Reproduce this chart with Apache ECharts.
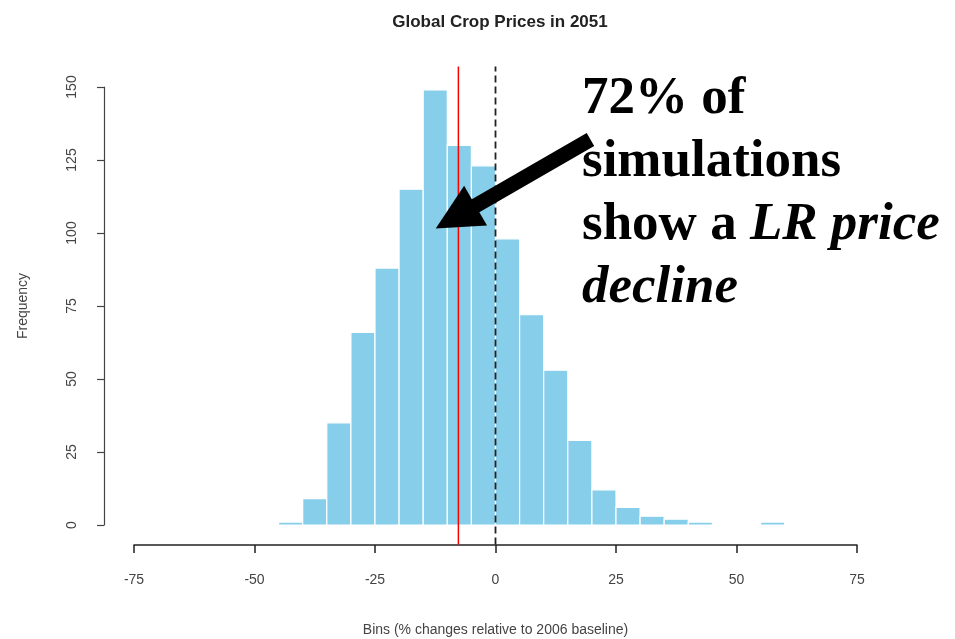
<!DOCTYPE html>
<html>
<head>
<meta charset="utf-8">
<script src="https://cdn.jsdelivr.net/npm/echarts@6/dist/echarts.min.js"></script>
<style>
  html, body { margin: 0; padding: 0; background: #fff; }
  #chart { width: 955px; height: 639px; }
</style>
</head>
<body>
<div id="chart"></div>
<script>
// histogram bins (left edge), width 5
const binStarts = [-45, -40, -35, -30, -25, -20, -15, -10, -5, 0, 5, 10, 15, 20, 25, 30, 35, 40, 45, 50, 55]
const binWidth = 5
const frequencies = [1, 9, 35, 66, 88, 115, 149, 130, 123, 98, 72, 53, 29, 12, 6, 3, 2, 1, 0, 0, 1]
const xTicks = [-75, -50, -25, 0, 25, 50, 75]
const yTicks = [0, 25, 50, 75, 100, 125, 150]
// vertical reference lines: x value, spanning the plot region in y units
const meanChange = -7.7
const baselineChange = 0
const plotYRange = [-6.7, 157]
// arrow annotation, data coords: [x, y]
const arrowTail = [19.7, 132]
const arrowTip = [-12.4, 101.5]

const chart = echarts.init(document.getElementById('chart'))

const axisText = { color: '#444', fontFamily: 'Liberation Sans, Arial', fontSize: 14 }

const vline = (x, lineStyle) => ({
  type: 'custom',
  clip: false,
  data: [[x, plotYRange[0], plotYRange[1]]],
  renderItem: (params, api) => {
    const a = api.coord([api.value(0), api.value(1)])
    const b = api.coord([api.value(0), api.value(2)])
    return {
      type: 'line',
      shape: { x1: a[0], y1: a[1], x2: b[0], y2: b[1] },
      style: lineStyle,
    }
  },
  z: 3,
})

const option = {
  animation: false,
  backgroundColor: '#fff',
  title: {
    text: 'Global Crop Prices in 2051',
    left: 495,
    top: 9,
    textAlign: 'center',
    textStyle: { fontFamily: 'Liberation Sans, Arial', fontWeight: 'bold', fontSize: 17, color: '#222' },
  },
  grid: { left: 134, right: 98, top: 87, bottom: 114, outerBoundsMode: 'none', containLabel: false },
  xAxis: {
    type: 'value',
    min: xTicks[0],
    max: xTicks[xTicks.length - 1],
    interval: 25,
    offset: 20,
    splitLine: { show: false },
    axisLine: { onZero: false, lineStyle: { color: '#222', width: 1.5 } },
    axisTick: { length: 8, lineStyle: { color: '#222', width: 1.5 } },
    axisLabel: { ...axisText, margin: 28 },
    name: 'Bins (% changes relative to 2006 baseline)',
    nameLocation: 'middle',
    nameGap: 78,
    nameTextStyle: axisText,
  },
  yAxis: {
    type: 'value',
    min: yTicks[0],
    max: yTicks[yTicks.length - 1],
    interval: 25,
    offset: 30,
    splitLine: { show: false },
    axisLine: { show: true, onZero: false, lineStyle: { color: '#444', width: 1.2 } },
    axisTick: { show: true, length: 7, lineStyle: { color: '#444', width: 1.2 } },
    axisLabel: { ...axisText, rotate: 90, margin: 25 },
    name: 'Frequency',
    nameLocation: 'middle',
    nameRotate: 90,
    nameGap: 74,
    nameTextStyle: axisText,
  },
  series: [
    {
      type: 'custom',
      data: binStarts.map((s, i) => [s, frequencies[i]]),
      renderItem: (params, api) => {
        const x0 = api.value(0)
        const v = api.value(1)
        if (!v) return
        const p0 = api.coord([x0, 0])
        const p1 = api.coord([x0 + binWidth, v])
        return {
          type: 'rect',
          shape: { x: p0[0], y: p1[1], width: p1[0] - p0[0], height: p0[1] - p1[1] },
          style: { fill: '#87ceeb', stroke: '#ffffff', lineWidth: 1.2 },
        }
      },
      z: 2,
    },
    vline(meanChange, { stroke: '#ff0000', lineWidth: 1.5 }),
    vline(baselineChange, { stroke: '#222', lineWidth: 1.8, lineDash: [7, 4] }),
  ],
}

chart.setOption(option)

// arrow polygon built from the data-space tip and tail
const tail = chart.convertToPixel({ gridIndex: 0 }, arrowTail)
const tip = chart.convertToPixel({ gridIndex: 0 }, arrowTip)
const dx = tail[0] - tip[0], dy = tail[1] - tip[1]
const len = Math.hypot(dx, dy)
const ux = dx / len, uy = dy / len
const nx = -uy, ny = ux
const headLen = 46, headHalf = 23, shaftHalf = 7.5
const bx = tip[0] + ux * headLen, by = tip[1] + uy * headLen
const arrowPoints = [
  tip,
  [bx + nx * headHalf, by + ny * headHalf],
  [bx + nx * shaftHalf, by + ny * shaftHalf],
  [tail[0] + nx * shaftHalf, tail[1] + ny * shaftHalf],
  [tail[0] - nx * shaftHalf, tail[1] - ny * shaftHalf],
  [bx - nx * shaftHalf, by - ny * shaftHalf],
  [bx - nx * headHalf, by - ny * headHalf],
]

chart.setOption({
  graphic: [
    {
      type: 'polygon',
      shape: { points: arrowPoints },
      style: { fill: '#000' },
      z: 10,
    },
    {
      type: 'text',
      left: 582,
      top: 73,
      z: 10,
      style: {
        text: '{b|72% of}\n{b|simulations}\n{b|show a }{bi|LR price}\n{bi|decline}',
        rich: {
          b: { fontFamily: 'Liberation Serif, Times New Roman', fontWeight: 'bold', fontSize: 53, lineHeight: 63, fill: '#000' },
          bi: { fontFamily: 'Liberation Serif, Times New Roman', fontWeight: 'bold', fontStyle: 'italic', fontSize: 53, lineHeight: 63, fill: '#000' },
        },
      },
    },
  ],
})
</script>
</body>
</html>
